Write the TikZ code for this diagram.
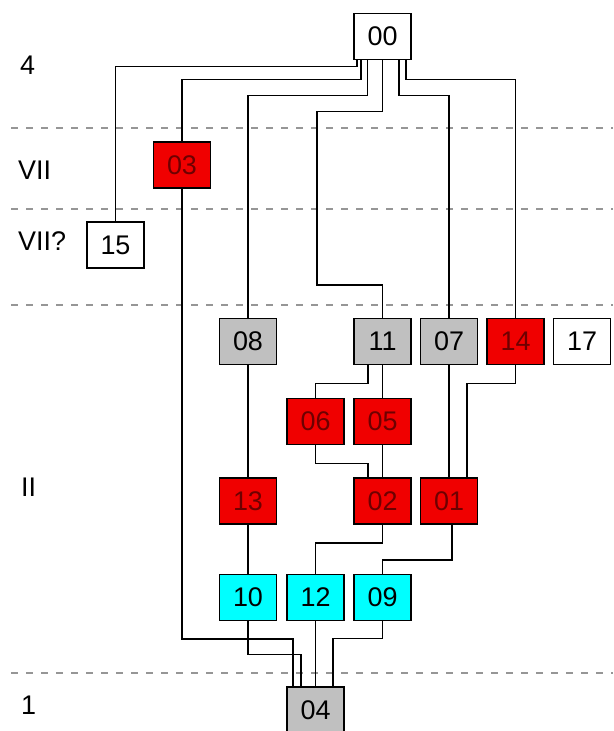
\documentclass[tikz,border=0pt]{standalone}
\usepackage{fontspec}
\setmainfont{Liberation Sans}
\definecolor{boxred}{RGB}{240,0,0}
\definecolor{txtred}{RGB}{110,0,0}
\definecolor{boxgray}{RGB}{192,192,192}
\definecolor{boxcyan}{RGB}{0,255,255}
\definecolor{levelgray}{RGB}{150,150,150}
\begin{document}
\begin{tikzpicture}[x=0.03cm,y=-0.03cm]
	% Styles for the boxes
	\tikzset{sample/.style={draw=black, line width=1.4pt, rectangle, inner sep=0pt,
			minimum width=1.71cm, minimum height=1.38cm, font=\fontsize{23}{26}\selectfont}}
	\tikzset{redbox/.style={sample, fill=boxred, text=txtred}}
	\tikzset{graybox/.style={sample, fill=boxgray}}
	\tikzset{cyanbox/.style={sample, fill=boxcyan}}
	\tikzset{whitebox/.style={sample, fill=white}}
	\tikzset{level line/.style={color=levelgray, line width=1.2pt, dash pattern=on 0.21cm off 0.24cm}}
	\tikzset{link/.style={black, line width=1.4pt}}
	\tikzset{levellabel/.style={anchor=west, inner sep=0pt, font=\fontsize{23}{26}\selectfont}}
	\useasboundingbox (0,0) rectangle (613,731);
	
	% Draw the level lines
	\draw[level line] (11,128) -- (613,128);
	\draw[level line] (11,209) -- (613,209);
	\draw[level line] (11,305) -- (613,305);
	\draw[level line] (11,673) -- (613,673);
	
	\node[levellabel] (l4) at (20,65) {4};
	\node[levellabel] (lvii) at (18,170) {VII};
	\node[levellabel] (lviiq) at (18,241) {VII?};
	\node[levellabel] (lii) at (21,487) {II};
	\node[levellabel] (l1) at (21,705) {1};
	
	% Boxes
	\node[whitebox] (n00) at (382.5,36.5) {00};
	\node[redbox] (n03) at (182,165) {03};
	\node[whitebox] (n15) at (115.5,245) {15};
	
	\node[graybox] (n08) at (248,341.5) {08};
	\node[graybox] (n11) at (382.5,341.5) {11};
	\node[graybox] (n07) at (449,341.5) {07};
	\node[redbox] (n14) at (515.5,341.5) {14};
	\node[whitebox] (n17) at (582,341.5) {17};
	
	\node[redbox] (n06) at (315.5,421.5) {06};
	\node[redbox] (n05) at (382.5,421.5) {05};
	
	\node[redbox] (n13) at (248,501) {13};
	\node[redbox] (n02) at (382.5,501) {02};
	\node[redbox] (n01) at (449,501) {01};
	
	\node[cyanbox] (n10) at (248,597.5) {10};
	\node[cyanbox] (n12) at (315.5,597.5) {12};
	\node[cyanbox] (n09) at (382.5,597.5) {09};
	
	\node[graybox] (n04) at (315.5,710) {04};
	
	% Links from 00
	\draw[link] ([shift={(-25.5,0)}]n00.south) -- ++(0,6) -| (n15.north);
	\draw[link] ([shift={(-21.5,0)}]n00.south) -- ++(0,19) -| (n03.north);
	\draw[link] ([shift={(-15,0)}]n00.south) -- ++(0,35) -| (n08.north);
	\draw[link] (n00.south) -- ++(0,51) -| ([shift={(-65.5,-33)}]n11.north) -| (n11.north);
	\draw[link] ([shift={(16.5,0)}]n00.south) -- ++(0,35) -| (n07.north);
	\draw[link] ([shift={(23.5,0)}]n00.south) -- ++(0,19) -| (n14.north);
	
	% Middle links
	\draw[link] (n08) -- (n13);
	\draw[link] (n13) -- (n10);
	\draw[link] ([shift={(-14.5,0)}]n11.south) -- ++(0,18) -| (n06.north);
	\draw[link] (n11) -- (n05);
	\draw[link] (n06.south) -- ++(0,18) -| ([shift={(-14.5,0)}]n02.north);
	\draw[link] (n05) -- (n02);
	\draw[link] (n07) -- (n01);
	\draw[link] (n14.south) -- ++(0,18) -| ([shift={(18,0)}]n01.north);
	\draw[link] (n02.south) -- ++(0,18) -| (n12.north);
	\draw[link] ([shift={(3,0)}]n01.south) -- ++(0,35) -| (n09.north);
	
	% Links into 04
	\draw[link] (n03.south) -- ++(0,450) -| ([shift={(-22.5,0)}]n04.north);
	\draw[link] (n10.south) -- ++(0,33) -| ([shift={(-14.5,0)}]n04.north);
	\draw[link] (n12) -- (n04);
	\draw[link] (n09.south) -- ++(0,17) -| ([shift={(17.5,0)}]n04.north);
\end{tikzpicture}
\end{document}
